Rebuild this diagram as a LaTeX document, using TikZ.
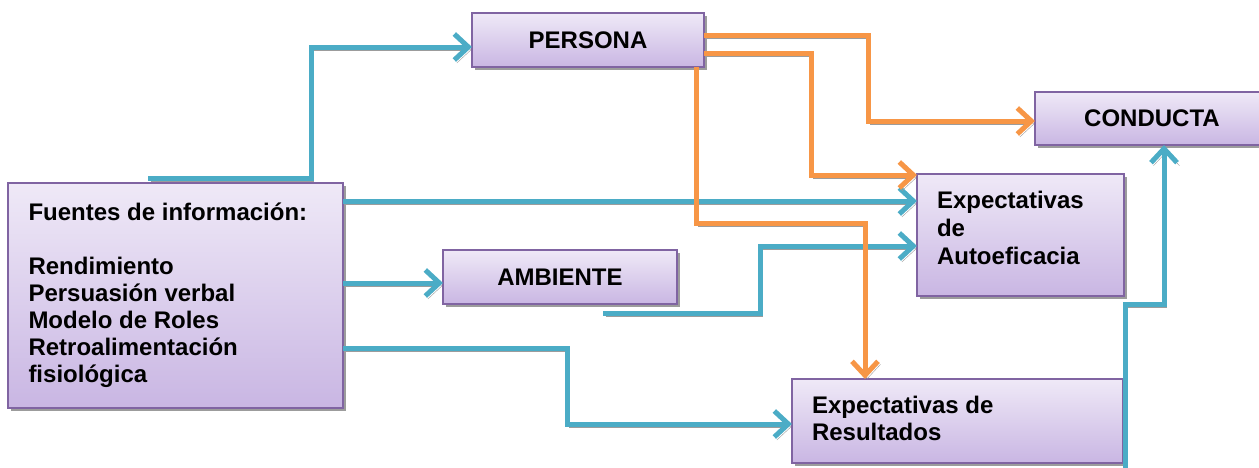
\documentclass[tikz,border=0pt]{standalone}
\usepackage{fontspec}
\setmainfont{Liberation Sans}
\usetikzlibrary{arrows.meta,shadows}
\definecolor{bl}{HTML}{4BACC6}
\definecolor{org}{HTML}{F79646}
\definecolor{sh}{HTML}{9C9C9C}
\definecolor{bord}{HTML}{8064A2}
\definecolor{topc}{HTML}{EFE9F7}
\definecolor{botc}{HTML}{C9B6E3}
\begin{document}
\begin{tikzpicture}[x=1pt,y=-1pt,
 box/.style={draw=bord, line width=1.8pt, rectangle, inner sep=0pt, outer sep=0pt,
   top color=topc, bottom color=botc,
   drop shadow={shadow xshift=3pt,shadow yshift=-3pt,fill=sh,opacity=1},
   font=\fontsize{24}{28}\selectfont\bfseries},
 txt/.style={anchor=base west, inner sep=0pt, outer sep=0pt},
 conn/.style={line width=5pt, -{Straight Barb[length=14pt,width=26pt]},
   preaction={draw=sh, transform canvas={shift={(2.5pt,-3pt)}}}},
 blu/.style={conn, draw=bl},
 ora/.style={conn, draw=org}]
\useasboundingbox (0,0) rectangle (1259,467);
\clip (0,0) rectangle (1259,467);
% boxes
\node[box, minimum width=335pt, minimum height=225pt] (f) at (175.5,295.5) {};
\node[box, minimum width=232pt, minimum height=54pt] (p) at (588,40) {PERSONA};
\node[box, minimum width=234pt, minimum height=54pt] (amb) at (560,277) {AMBIENTE};
\node[box, minimum width=234pt, minimum height=53pt] (c) at (1152,118.5) {CONDUCTA};
\node[box, minimum width=207pt, minimum height=122pt] (a) at (1020.5,235) {};
\node[box, minimum width=331pt, minimum height=84pt] (r) at (957.5,421) {};
% texts
\node[txt] (ft) at (28.5,220) {\parbox[t]{310pt}{\fontsize{24}{27}\selectfont\bfseries Fuentes de información:\\[27pt]Rendimiento\\Persuasión verbal\\Modelo de Roles\\Retroalimentación\\fisiológica}};
\node[txt] (at) at (937,208) {\parbox[t]{180pt}{\fontsize{24}{28}\selectfont\bfseries Expectativas\\de\\Autoeficacia}};
\node[txt] (rt) at (812,413) {\parbox[t]{300pt}{\fontsize{24}{27}\selectfont\bfseries Expectativas de\\Resultados}};
% blue connectors
\coordinate (s1) at (148,178);
\coordinate (s4) at (603,313);
\coordinate (s6) at (1125,470);
\draw[blu] (s1) -- (311,178) -- (311,47) -- ([yshift=-7pt]p.west);
\draw[blu] ([yshift=94.5pt]f.east) -- ([yshift=34pt]a.west);
\draw[blu] ([yshift=12.5pt]f.east) -- ([yshift=-6pt]amb.west);
\draw[blu] (s4) -- (760,313) -- (760,246) -- ([yshift=-11pt]a.west);
\draw[blu] ([yshift=-52.5pt]f.east) -- (567,348) -- (567,424) -- ([yshift=-3pt]r.west);
\draw[blu] (s6) -- (1125,304) -- (1164,304) -- ([xshift=12pt]c.south);
% orange connectors
\draw[ora] ([yshift=5pt]p.east) -- (868,35) -- (868,121) -- ([yshift=-2.5pt]c.west);
\draw[ora] ([yshift=-13pt]p.east) -- (811,53) -- (811,175) -- ([yshift=60pt]a.west);
\draw[ora] ([xshift=-8pt]p.south east) -- (696,223) -- (865,223) -- ([xshift=-92.5pt]r.north);
\end{tikzpicture}
\end{document}
